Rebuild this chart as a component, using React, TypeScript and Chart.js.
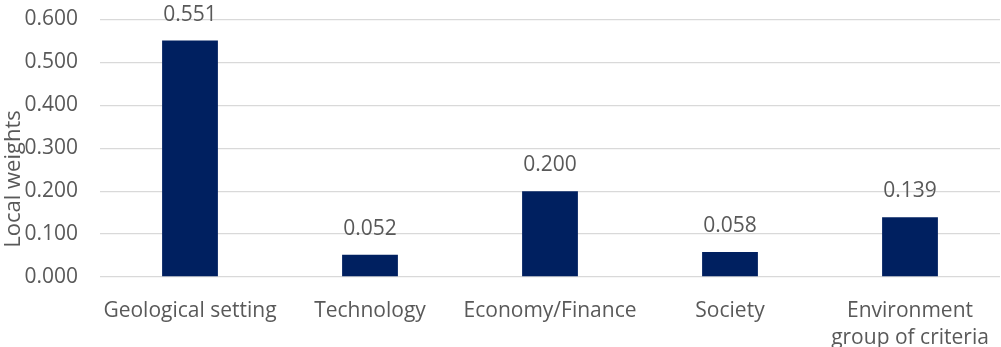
import React, { useEffect, useRef } from "react";
import { Chart, registerables } from "chart.js";

Chart.register(...registerables);

const categories: (string | string[])[] = [
  "Geological setting",
  "Technology",
  "Economy/Finance",
  "Society",
  ["Environment", "group of criteria"],
];
const weights: number[] = [0.551, 0.052, 0.2, 0.058, 0.139];
const yTicks: number[] = [0, 0.1, 0.2, 0.3, 0.4, 0.5, 0.6];
const yTitle = "Local weights";

const FONT = "'Open Sans', sans-serif";
const FONT_SIZE = 21;
const TEXT = "#595959";
const BAR = "#002060";
const GRID = "#d9d9d9";

export default function App() {
  const ref = useRef<HTMLCanvasElement | null>(null);
  useEffect(() => {
    document.body.style.margin = "0";
    if (!ref.current) return;
    const labelPlugin = {
      id: "valueLabels",
      afterDatasetsDraw(chart: any) {
        const ctx = chart.ctx;
        const meta = chart.getDatasetMeta(0);
        ctx.save();
        ctx.font = `${FONT_SIZE}px ${FONT}`;
        ctx.fillStyle = TEXT;
        ctx.textAlign = "center";
        ctx.textBaseline = "middle";
        meta.data.forEach((bar: any, i: number) => {
          ctx.fillText(weights[i].toFixed(3), bar.x, bar.y - 26);
        });
        ctx.restore();
      },
    };
    const titlePlugin = {
      id: "yTitle",
      afterDraw(chart: any) {
        const ctx = chart.ctx;
        ctx.save();
        ctx.font = `${FONT_SIZE + 1}px ${FONT}`;
        ctx.fillStyle = TEXT;
        ctx.translate(20, 179);
        ctx.rotate(-Math.PI / 2);
        ctx.textAlign = "center";
        ctx.textBaseline = "alphabetic";
        ctx.fillText(yTitle, 0, 0);
        ctx.restore();
      },
    };
    const chart = new Chart(ref.current, {
      type: "bar",
      data: {
        labels: categories,
        datasets: [
          {
            data: weights,
            backgroundColor: BAR,
            borderWidth: 0,
            barPercentage: 0.62,
            categoryPercentage: 0.5,
          },
        ],
      },
      options: {
        animation: false,
        responsive: false,
        maintainAspectRatio: false,
        layout: { padding: { top: 0, right: 1, left: 0, bottom: 0 } },
        plugins: {
          legend: { display: false },
          tooltip: { enabled: false },
        },
        scales: {
          x: {
            grid: { display: false },
            border: { display: false },
            ticks: {
              color: TEXT,
              font: { family: FONT, size: FONT_SIZE, lineHeight: 1.28 },
              padding: 13,
              maxRotation: 0,
              autoSkip: false,
            },
            afterFit(scale: any) {
              scale.height = 70;
              scale.paddingLeft = 0;
              scale.paddingRight = 0;
            },
          },
          y: {
            min: 0,
            max: 0.6,
            afterBuildTicks(scale: any) {
              scale.ticks = yTicks.map((v) => ({ value: v }));
            },
            grid: { color: GRID, lineWidth: 1.3, drawTicks: false },
            border: { display: false },
            ticks: {
              color: TEXT,
              font: { family: FONT, size: FONT_SIZE },
              padding: 22,
              callback: (v: any) => Number(v).toFixed(3),
            },
            afterFit(scale: any) {
              scale.width = 100;
              scale.paddingTop = 19.5;
              scale.paddingBottom = 0;
            },
          },
        },
      },
      plugins: [labelPlugin, titlePlugin],
    });
    return () => chart.destroy();
  }, []);
  return (
    <div style={{ width: 1001, height: 347 }}>
      <canvas ref={ref} width={1001} height={347} style={{ display: "block" }} />
    </div>
  );
}
